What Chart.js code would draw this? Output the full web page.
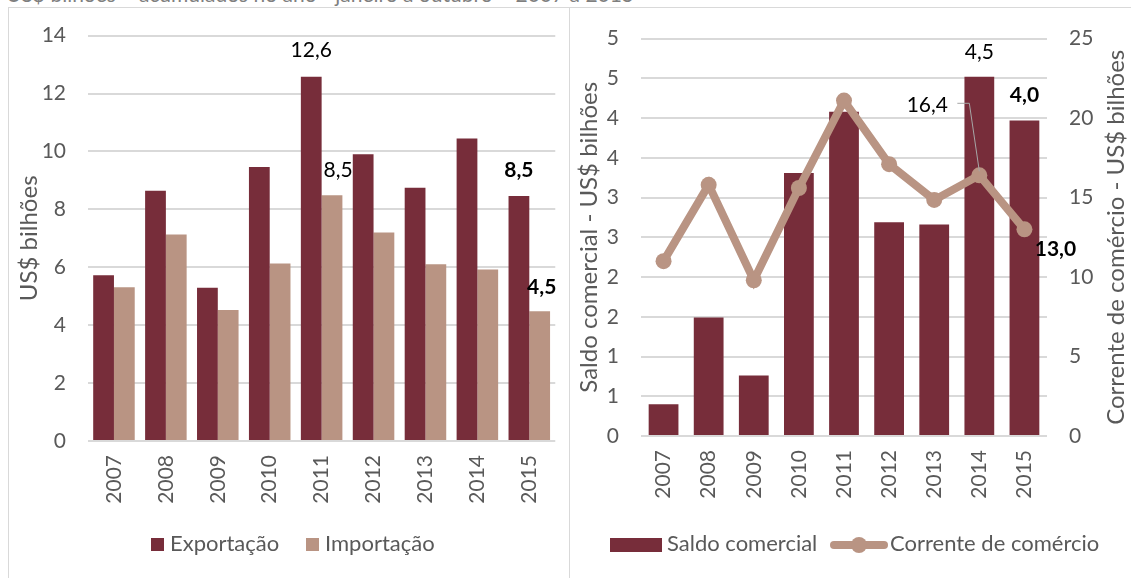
<!DOCTYPE html>
<html>
<head>
<meta charset="utf-8">
<script src="https://cdn.jsdelivr.net/npm/chart.js"></script>
<style>
  body { margin: 0; width: 1131px; height: 578px; overflow: hidden; background: #fff; position: relative; font-family: Lato, sans-serif; }
  #head { position: absolute; left: 6px; top: -17px; font-size: 21px; line-height: 21px; color: #7f7f7f; white-space: nowrap; }
  #frame { position: absolute; left: 8px; top: 7px; width: 1200px; height: 700px; border: 1px solid #D9D9D9; }
  #divider { position: absolute; left: 569px; top: 7px; width: 1px; height: 700px; background: #D9D9D9; }
  canvas { position: absolute; }
  .sw, .lt, .ln, .dot { position: absolute; }
  .lt { font-size: 22px; line-height: 22px; top: 532px; color: #595959; white-space: nowrap; }
</style>
</head>
<body>
<div id="head">US$ bilhões – acumulados no ano - janeiro a outubro – 2007 a 2015</div>
<div id="frame"></div>
<div id="divider"></div>
<canvas id="tradeChart" width="560" height="577" style="left:9px;top:1px"></canvas>
<canvas id="balanceChart" width="561" height="574" style="left:570px;top:4px"></canvas>

<span class="sw" style="left:151px;top:538px;width:13px;height:13px;background:#772D3A"></span>
<span class="lt" style="left:170px">Exportação</span>
<span class="sw" style="left:306px;top:538px;width:13px;height:13px;background:#B99483"></span>
<span class="lt" style="left:325px">Importação</span>

<span class="sw" style="left:610px;top:538px;width:52px;height:14px;background:#772D3A"></span>
<span class="lt" style="left:667px">Saldo comercial</span>
<span class="ln" style="left:830px;top:541px;width:58px;height:8px;border-radius:4px;background:#B99483"></span>
<span class="dot" style="left:851px;top:537px;width:16px;height:16px;border-radius:50%;background:#B99483"></span>
<span class="lt" style="left:890px">Corrente de comércio</span>

<script>
'use strict'

const years = ['2007', '2008', '2009', '2010', '2011', '2012', '2013', '2014', '2015'];
const exportacao = [5.72, 8.64, 5.29, 9.46, 12.58, 9.90, 8.75, 10.45, 8.46];
const importacao = [5.31, 7.13, 4.52, 6.13, 8.49, 7.20, 6.10, 5.92, 4.48];
const saldo = [0.40, 1.49, 0.76, 3.31, 4.08, 2.69, 2.66, 4.52, 3.97];
const corrente = [11.0, 15.8, 9.8, 15.6, 21.1, 17.1, 14.85, 16.4, 13.0];
const saldoTicks = ['0', '1', '1', '2', '2', '3', '3', '4', '4', '5', '5'];

const maroon = '#772D3A';
const tan = '#B99483';
const gray = '#595959';

Chart.defaults.font.family = 'Lato';
Chart.defaults.color = gray;

function fmt(v) {
    return v.toFixed(1).replace('.', ',');
}

// labels drawn next to chosen bars / points, like the excel data labels
const valueLabels = {
    id: 'valueLabels',
    afterDatasetsDraw(chart, args, opts) {
        const ctx = chart.ctx;
        ctx.save();
        ctx.textAlign = 'center';
        ctx.textBaseline = 'middle';
        for (const l of opts.items) {
            const el = chart.getDatasetMeta(l.ds).data[l.i];
            const v = chart.data.datasets[l.ds].data[l.i];
            if (l.leader) {
                ctx.strokeStyle = '#A6A6A6';
                ctx.lineWidth = 1;
                ctx.beginPath();
                l.leader.forEach((p, k) => {
                    if (k === 0) ctx.moveTo(el.x + p[0], el.y + p[1]);
                    else ctx.lineTo(el.x + p[0], el.y + p[1]);
                });
                ctx.stroke();
            }
            ctx.font = (l.bold ? 'bold ' : '') + '21px Lato';
            ctx.fillStyle = '#000';
            ctx.fillText(fmt(v), el.x + l.dx, el.y + l.dy);
        }
        ctx.restore();
    }
};

// right axis title reads bottom to top in the original
const rightTitle = {
    id: 'rightTitle',
    afterDraw(chart, args, opts) {
        const ctx = chart.ctx;
        const a = chart.chartArea;
        ctx.save();
        ctx.translate(opts.x, (a.top + a.bottom) / 2);
        ctx.rotate(-Math.PI / 2);
        ctx.font = '24px Lato';
        ctx.fillStyle = gray;
        ctx.textAlign = 'center';
        ctx.textBaseline = 'middle';
        ctx.fillText(opts.text, 0, 0);
        ctx.restore();
    }
};

const xAxis = {
    ticks: { minRotation: 90, maxRotation: 90, autoSkip: false, padding: 14, font: { size: 21 } },
    grid: { display: false, drawTicks: false },
    border: { display: false },
    afterFit(s) { s.height = 80; }
};

const configTrade = {
    type: 'bar',
    data: {
        labels: years,
        datasets: [
            { label: 'Exportação', data: exportacao, backgroundColor: maroon, categoryPercentage: 0.8, barPercentage: 1 },
            { label: 'Importação', data: importacao, backgroundColor: tan, categoryPercentage: 0.8, barPercentage: 1 }
        ]
    },
    options: {
        responsive: false,
        animation: false,
        layout: { padding: { left: 0, right: 9, top: 20, bottom: 57 } },
        plugins: {
            legend: { display: false },
            tooltip: { enabled: false },
            valueLabels: {
                items: [
                    { ds: 0, i: 4, dx: 0, dy: -26 },
                    { ds: 1, i: 4, dx: 6, dy: -25 },
                    { ds: 0, i: 8, dx: 0, dy: -26, bold: true },
                    { ds: 1, i: 8, dx: 2, dy: -24, bold: true }
                ]
            }
        },
        scales: {
            x: xAxis,
            y: {
                min: 0, max: 14,
                ticks: { stepSize: 2, padding: 22, font: { size: 21 } },
                grid: { color: '#D9D9D9', lineWidth: 2, drawTicks: false },
                border: { display: false },
                title: { display: true, text: 'US$ bilhões', color: gray, font: { size: 24, lineHeight: 1 }, padding: { top: 8, bottom: 0 } },
                afterFit(s) { s.width = 79; }
            }
        }
    },
    plugins: [valueLabels]
};

const configBalance = {
    type: 'bar',
    data: {
        labels: years,
        datasets: [
            { label: 'Saldo comercial', data: saldo, backgroundColor: maroon, categoryPercentage: 0.66, barPercentage: 1, yAxisID: 'y', order: 1 },
            {
                type: 'line', label: 'Corrente de comércio', data: corrente, yAxisID: 'y1', order: 0,
                borderColor: tan, borderWidth: 8, pointRadius: 8, pointBackgroundColor: tan, pointBorderWidth: 0, tension: 0
            }
        ]
    },
    options: {
        responsive: false,
        animation: false,
        layout: { padding: { left: 0, right: 0, top: 20, bottom: 62 } },
        plugins: {
            legend: { display: false },
            tooltip: { enabled: false },
            valueLabels: {
                items: [
                    { ds: 0, i: 7, dx: 0, dy: -25 },
                    { ds: 0, i: 8, dx: 0, dy: -25, bold: true },
                    { ds: 1, i: 7, dx: -52, dy: -70, leader: [[-22, -72], [-10, -72], [0, -4]] },
                    { ds: 1, i: 8, dx: 31, dy: 20, bold: true }
                ]
            },
            rightTitle: { text: 'Corrente de comércio - US$ bilhões', x: 546 }
        },
        scales: {
            x: xAxis,
            y: {
                position: 'left',
                min: 0, max: 5,
                ticks: { stepSize: 0.5, padding: 22, font: { size: 21 }, callback: (v, i) => saldoTicks[i] },
                grid: { color: '#D9D9D9', lineWidth: 2, drawTicks: false },
                border: { display: false },
                title: { display: true, text: 'Saldo comercial - US$ bilhões', color: gray, font: { size: 24, lineHeight: 1 }, padding: { top: 7, bottom: 0 } },
                afterFit(s) { s.width = 71; }
            },
            y1: {
                position: 'right',
                min: 0, max: 25,
                ticks: { stepSize: 5, padding: 22, font: { size: 21 } },
                grid: { drawOnChartArea: false, drawTicks: false },
                border: { display: false },
                afterFit(s) { s.width = 84; }
            }
        }
    },
    plugins: [valueLabels, rightTitle]
};

const chartTrade = new Chart(document.getElementById('tradeChart'), configTrade);
const chartBalance = new Chart(document.getElementById('balanceChart'), configBalance);
</script>
</body>
</html>
